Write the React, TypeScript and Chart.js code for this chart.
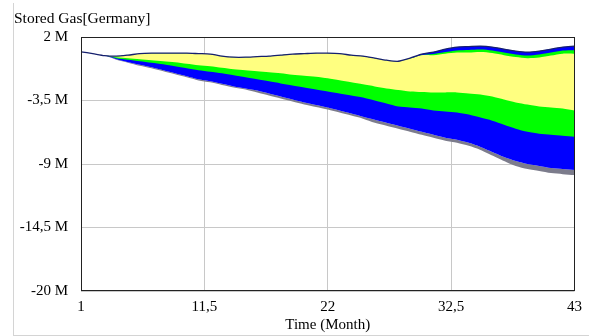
import React, { useEffect, useRef } from "react";
import { Chart, registerables } from "chart.js";
Chart.register(...registerables);

const TITLE = "Stored Gas[Germany]";
const X_TITLE = "Time (Month)";
const months = [1, 2, 3, 4, 5, 6, 7, 8, 9, 10, 11, 12, 13, 14, 15, 16, 17, 18, 19, 20, 21, 22, 23, 24, 25, 26, 27, 28, 29, 30, 31, 32, 33, 34, 35, 36, 37, 38, 39, 40, 41, 42, 43];
const xTicks = [1, 11.5, 22, 32.5, 43];
const yTicks = [2, -3.5, -9, -14.5, -20];

// values in millions
const upper100 = [0.72, 0.56, 0.39, 0.34, 0.43, 0.56, 0.6, 0.6, 0.6, 0.6, 0.56, 0.52, 0.34, 0.25, 0.25, 0.3, 0.34, 0.43, 0.52, 0.56, 0.6, 0.6, 0.56, 0.43, 0.34, 0.17, -0.01, -0.1, 0.17, 0.52, 0.69, 0.95, 1.13, 1.17, 1.21, 1.13, 0.95, 0.78, 0.69, 0.78, 0.95, 1.13, 1.21];
const upper75 = [0.72, 0.56, 0.39, 0.34, 0.43, 0.56, 0.6, 0.6, 0.6, 0.6, 0.56, 0.52, 0.34, 0.25, 0.25, 0.3, 0.34, 0.43, 0.52, 0.56, 0.6, 0.6, 0.56, 0.43, 0.34, 0.17, -0.01, -0.1, 0.13, 0.43, 0.52, 0.69, 0.83, 0.87, 0.91, 0.83, 0.65, 0.48, 0.39, 0.48, 0.65, 0.83, 0.86];
const upper50 = [0.72, 0.56, 0.39, 0.34, 0.43, 0.56, 0.6, 0.6, 0.6, 0.6, 0.56, 0.52, 0.34, 0.25, 0.25, 0.3, 0.34, 0.43, 0.52, 0.56, 0.6, 0.6, 0.56, 0.43, 0.34, 0.17, -0.01, -0.1, 0.13, 0.43, 0.43, 0.56, 0.66, 0.65, 0.69, 0.61, 0.43, 0.26, 0.17, 0.22, 0.39, 0.55, 0.56];
const lower50 = [0.72, 0.56, 0.39, 0.25, 0.17, 0.08, -0.01, -0.1, -0.18, -0.31, -0.44, -0.53, -0.66, -0.79, -0.88, -0.97, -1.06, -1.14, -1.27, -1.36, -1.45, -1.58, -1.75, -1.93, -2.1, -2.28, -2.45, -2.58, -2.71, -2.76, -2.8, -2.8, -2.8, -2.89, -2.98, -3.15, -3.41, -3.67, -3.85, -4.02, -4.11, -4.2, -4.37];
const lower75 = [0.72, 0.56, 0.39, 0.17, 0.04, -0.1, -0.23, -0.36, -0.53, -0.71, -0.88, -1.01, -1.14, -1.32, -1.49, -1.67, -1.84, -2.02, -2.19, -2.37, -2.54, -2.71, -2.89, -3.06, -3.24, -3.5, -3.76, -4.02, -4.11, -4.2, -4.37, -4.46, -4.55, -4.72, -4.98, -5.25, -5.6, -5.94, -6.21, -6.38, -6.47, -6.56, -6.64];
const lower95 = [0.72, 0.56, 0.39, 0.08, -0.18, -0.4, -0.62, -0.88, -1.14, -1.4, -1.67, -1.84, -2.06, -2.28, -2.45, -2.63, -2.89, -3.15, -3.41, -3.67, -3.89, -4.11, -4.37, -4.63, -4.9, -5.16, -5.42, -5.68, -5.94, -6.21, -6.47, -6.73, -6.9, -7.17, -7.52, -7.95, -8.39, -8.74, -9.0, -9.17, -9.35, -9.44, -9.52];
const lower100 = [0.72, 0.56, 0.39, 0.04, -0.22, -0.49, -0.71, -0.97, -1.23, -1.49, -1.76, -1.93, -2.15, -2.37, -2.54, -2.8, -3.06, -3.32, -3.58, -3.84, -4.06, -4.28, -4.54, -4.8, -5.07, -5.42, -5.68, -5.94, -6.2, -6.47, -6.73, -6.99, -7.16, -7.43, -7.78, -8.26, -8.74, -9.18, -9.44, -9.61, -9.79, -9.88, -9.96];

const FONT = "'Liberation Serif', 'Times New Roman', serif";
const pts = (arr: number[]) => months.map((m, i) => ({ x: m, y: arr[i] }));
const fmt = (v: number) => String(v).replace(".", ",");

const band = (data: number[], fill: number | boolean, color: string) => ({
  data: pts(data),
  borderWidth: 0,
  borderColor: color,
  backgroundColor: color,
  pointRadius: 0,
  tension: 0.25,
  fill,
});

const framePlugin = {
  id: "frame",
  afterDraw(chart: any) {
    const { ctx, chartArea: a } = chart;
    ctx.save();
    ctx.strokeStyle = "#222";
    ctx.lineWidth = 1;
    ctx.strokeRect(Math.round(a.left) + 0.5, Math.round(a.top) + 0.5, Math.round(a.right - a.left) - 1, Math.round(a.bottom - a.top) - 1);
    ctx.restore();
  },
};

export default function App() {
  const ref = useRef<HTMLCanvasElement>(null);
  useEffect(() => {
    if (!ref.current) return;
    const chart = new Chart(ref.current, {
      type: "line",
      data: {
        datasets: [
          { data: pts(upper100), borderColor: "#16206e", borderWidth: 1.3, pointRadius: 0, tension: 0.25, fill: false } as any,
          band(upper50, 2, "#ffff80"),
          band(lower50, false, "#ffff80"),
          band(upper75, 4, "#00ff00"),
          band(lower75, false, "#00ff00"),
          band(upper100, 6, "#0000ff"),
          band(lower95, 7, "#7c7c8c"),
          band(lower100, false, "#7c7c8c"),
        ],
      },
      options: {
        animation: false,
        responsive: true,
        maintainAspectRatio: false,
        layout: { padding: { left: 14, right: 11, top: 0, bottom: 0 } },
        plugins: {
          legend: { display: false },
          tooltip: { enabled: false },
          title: {
            display: true,
            text: TITLE,
            align: "start",
            color: "#000",
            font: { family: FONT, size: 15.5, weight: "normal" },
            padding: { top: 10, bottom: 8.4 },
          },
        },
        scales: {
          x: {
            type: "linear",
            min: 1,
            max: 43,
            z: 1,
            afterBuildTicks: (s: any) => { s.ticks = xTicks.map((v) => ({ value: v })); },
            afterFit: (s: any) => { s.height = 45; },
            ticks: { color: "#000", font: { family: FONT, size: 15 }, padding: 7, maxRotation: 0, autoSkip: false, callback: (v: any) => fmt(v) },
            grid: { color: "#c8c8c8", lineWidth: 1, drawTicks: false },
            border: { display: false },
            title: { display: true, text: X_TITLE, color: "#000", font: { family: FONT, size: 15 }, padding: { top: 2, bottom: 1.5 } },
          },
          y: {
            type: "linear",
            min: -20,
            max: 2,
            z: 1,
            afterBuildTicks: (s: any) => { s.ticks = yTicks.map((v) => ({ value: v })); },
            afterFit: (s: any) => { s.width = 67; },
            ticks: { color: "#000", font: { family: FONT, size: 15 }, padding: 13, autoSkip: false, callback: (v: any) => fmt(v) + " M" },
            grid: { color: "#c8c8c8", lineWidth: 1, drawTicks: false },
            border: { display: false },
          },
        },
      },
      plugins: [framePlugin],
    } as any);
    return () => chart.destroy();
  }, []);

  return (
    <div style={{ position: "fixed", left: 0, top: 0, width: 589, height: 336, background: "#fff" }}>
      <div style={{ position: "absolute", left: 13, top: 3, width: 1, height: 333, background: "#d4d4d4" }} />
      <div style={{ position: "absolute", left: 13, top: 335, width: 576, height: 1, background: "#d4d4d4" }} />
      <canvas ref={ref} style={{ position: "absolute", left: 0, top: 0, width: 589, height: 336 }} />
    </div>
  );
}
